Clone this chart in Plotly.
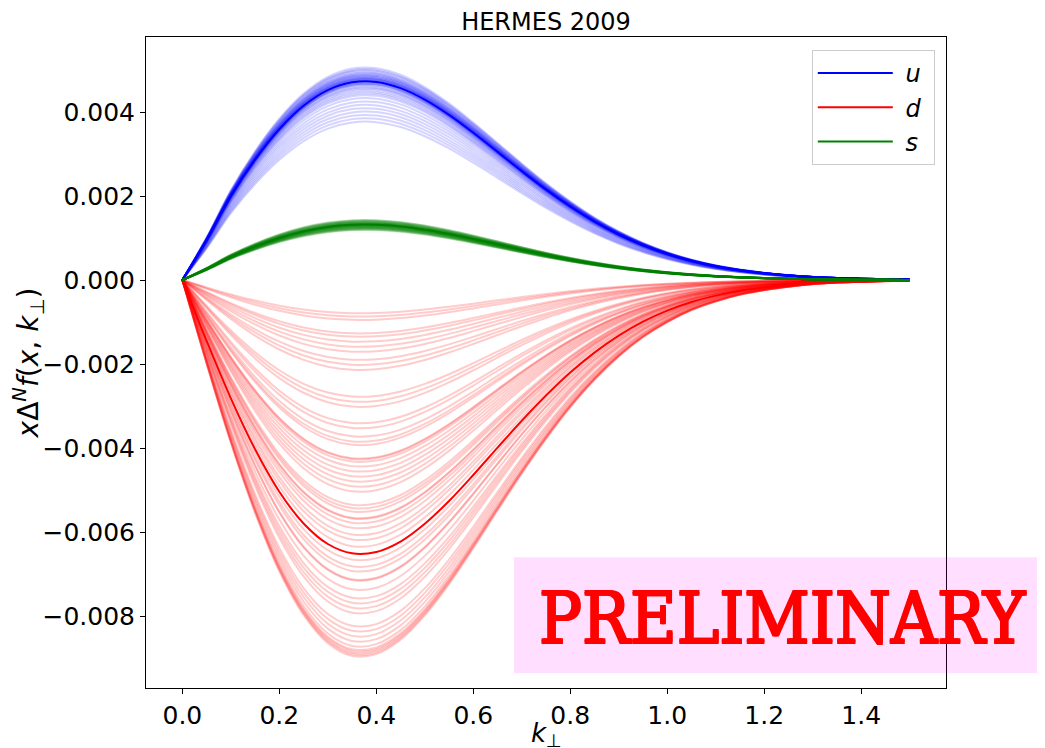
import plotly.graph_objects as go

# k_perp grid
k_perp = [0.0, 0.05, 0.1, 0.15, 0.2, 0.25, 0.3, 0.35, 0.4, 0.45, 0.5, 0.55, 0.6, 0.65,
          0.7, 0.75, 0.8, 0.85, 0.9, 0.95, 1.0, 1.05, 1.1, 1.15, 1.2, 1.25, 1.3, 1.35,
          1.4, 1.45, 1.5]

# normalised k_perp profiles (peak = 1)
profile_d = [0.0, 0.222, 0.432, 0.618, 0.773, 0.889, 0.964, 0.998, 0.993, 0.955, 0.890,
             0.807, 0.712, 0.612, 0.514, 0.422, 0.338, 0.265, 0.203, 0.152, 0.112, 0.080,
             0.057, 0.039, 0.027, 0.018, 0.011, 0.007, 0.005, 0.003, 0.002]
profile_us = [0.0, 0.200, 0.422, 0.606, 0.759, 0.877, 0.956, 0.995, 0.997, 0.966, 0.908,
              0.831, 0.741, 0.645, 0.548, 0.455, 0.370, 0.294, 0.229, 0.175, 0.131, 0.096,
              0.069, 0.049, 0.034, 0.023, 0.015, 0.010, 0.006, 0.004, 0.002]

# replica peak values
u_peaks = [0.00506, 0.00502, 0.00500, 0.00497, 0.00494, 0.00492, 0.00490, 0.00488, 0.00487,
           0.00485, 0.00484, 0.00482, 0.00481, 0.00480, 0.00479, 0.00478, 0.00477, 0.00476,
           0.00475, 0.00474, 0.00472, 0.00471, 0.00470, 0.00468, 0.00467, 0.00466, 0.00464,
           0.00461, 0.00458, 0.00456, 0.00452, 0.00448, 0.00444, 0.00440, 0.00433, 0.00425,
           0.00417, 0.00409, 0.00401, 0.00393, 0.00385, 0.00377]
d_peaks = [-0.00079, -0.00087, -0.00095, -0.00127, -0.00135, -0.00147, -0.00159, -0.00171,
           -0.00190, -0.00202, -0.00214, -0.00278, -0.00290, -0.00302, -0.00341, -0.00353,
           -0.00373, -0.00385, -0.00393, -0.00425, -0.00427, -0.00433, -0.00444, -0.00456,
           -0.00468, -0.00480, -0.00492, -0.00504, -0.00536, -0.00544, -0.00552, -0.00567,
           -0.00569, -0.00579, -0.00591, -0.00607, -0.00619, -0.00635, -0.00667, -0.00683,
           -0.00694, -0.00714, -0.00716, -0.00738, -0.00758, -0.00770, -0.00782, -0.00794,
           -0.00825, -0.00837, -0.00849, -0.00861, -0.00873, -0.00881, -0.00885, -0.00889,
           -0.00893, -0.00897]
s_peaks = [0.00119, 0.00120, 0.00121, 0.00122, 0.00123, 0.00124, 0.00124, 0.00125, 0.00126,
           0.00126, 0.00127, 0.00128, 0.00128, 0.00129, 0.00129, 0.00130, 0.00130, 0.00131,
           0.00131, 0.00132, 0.00132, 0.00133, 0.00133, 0.00134, 0.00134, 0.00135, 0.00135,
           0.00136, 0.00137, 0.00137, 0.00138, 0.00139, 0.00140, 0.00141, 0.00142, 0.00143]

u_central = 0.00473
d_central = -0.00652
s_central = 0.00132

NB = "\u00a0"
flavours = [
    ("u", u_peaks, u_central, profile_us, "rgb(0,0,255)", "rgba(0,0,255,0.17)"),
    ("d", d_peaks, d_central, profile_d, "rgb(255,0,0)", "rgba(255,0,0,0.2)"),
    ("s", s_peaks, s_central, profile_us, "rgb(0,128,0)", "rgba(0,128,0,0.2)"),
]

fig = go.Figure()
for name, peaks, central, prof, col, rcol in flavours:
    for p in peaks:
        fig.add_trace(go.Scatter(x=k_perp, y=[p * v for v in prof], mode="lines",
                                 line=dict(color=rcol, width=2, shape="spline"),
                                 showlegend=False, hoverinfo="skip"))
    fig.add_trace(go.Scatter(x=k_perp, y=[central * v for v in prof], mode="lines",
                             line=dict(color=col, width=2, shape="spline"),
                             name=NB + "<i>" + name + "</i>" + NB, showlegend=True))

# page body adds an 8px offset, so the figure is 8px smaller than the window
W, H = 1037, 740
fig.update_layout(
    width=W, height=H,
    margin=dict(l=138, r=99, t=29, b=60, autoexpand=False),
    paper_bgcolor="white", plot_bgcolor="white",
    font=dict(family="DejaVu Sans", size=25, color="black"),
    title=dict(text="HERMES 2009", x=(546 - 8) / W, xanchor="center", y=1 - 14 / H,
               yanchor="middle", font=dict(size=24)),
    legend=dict(x=0.986, y=0.98, xanchor="right", yanchor="top",
                bgcolor="rgba(255,255,255,0.8)", bordercolor="#cccccc", borderwidth=1,
                font=dict(size=24), itemwidth=75, tracegroupgap=0),
    showlegend=True,
)
fig.update_xaxes(range=[-0.075, 1.575], showgrid=False, zeroline=False, automargin=False,
                 showline=True, mirror=True, linecolor="black", linewidth=1,
                 ticks="outside", ticklen=5, tickwidth=1, tickcolor="black",
                 tickvals=[0, 0.2, 0.4, 0.6, 0.8, 1.0, 1.2, 1.4], tickformat=".1f")
fig.update_yaxes(range=[-0.009714, 0.005786], showgrid=False, zeroline=False, automargin=False,
                 showline=True, mirror=True, linecolor="black", linewidth=1,
                 ticks="outside", ticklen=5, tickwidth=1, tickcolor="black",
                 tickvals=[-0.008, -0.006, -0.004, -0.002, 0, 0.002, 0.004], tickformat=".3f",
                 title=dict(text="<i>x</i>Δ<sup><i>N</i></sup><i>f</i>(<i>x</i>, <i>k</i><sub>⊥</sub>)",
                            standoff=9, font=dict(size=28)))

# x-axis label
fig.add_annotation(text="<i>k</i><sub>⊥</sub>", xref="paper", yref="paper", x=0.5, y=-0.071,
                   xanchor="center", yanchor="middle", showarrow=False, font=dict(size=26))

fig.add_shape(type="rect", xref="paper", yref="paper", x0=0.46, x1=1.124, y0=0.023, y1=0.201,
              fillcolor="rgba(255,0,255,0.13)", line=dict(width=0), layer="above")
fig.add_annotation(text="PRELIMINARY", xref="paper", yref="paper", x=0.795, y=0.106,
                   xanchor="center", yanchor="middle", showarrow=False,
                   font=dict(family="DejaVu Serif Condensed", size=71, color="red",
                             shadow="1px 1px 0px red, -1px -1px 0px red, 1px -1px 0px red, -1px 1px 0px red"))

fig.write_html("out.html")
